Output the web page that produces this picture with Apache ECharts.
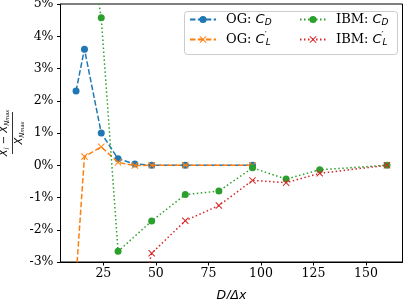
<!DOCTYPE html>
<html>
<head>
<meta charset="utf-8">
<script src="https://cdn.jsdelivr.net/npm/echarts@6/dist/echarts.min.js"></script>
<style>html,body{margin:0;padding:0;background:#fff}#c{width:407px;height:299px}</style>
</head>
<body>
<div id="c"></div>
<script>
// ---- data ----
const ogX = [12, 16, 24, 32, 40, 48, 64, 96];
const ogCD = [2.30, 3.60, 1.00, 0.20, 0.04, 0.00, 0.00, 0.00];
const ogCL = [-3.5, 0.27, 0.57, 0.09, -0.01, 0.00, 0.00, 0.00];
const ibmX = [16, 24, 32, 48, 64, 80, 96, 112, 128, 160];
const ibmCD = [7.7, 4.57, -2.67, -1.73, -0.91, -0.80, -0.08, -0.43, -0.14, 0.00];
const ibmXL = [32, 48, 64, 80, 96, 112, 128, 160];
const ibmCL = [-7.0, -2.73, -1.72, -1.25, -0.47, -0.54, -0.25, 0.00];
const xTicks = [25, 50, 75, 100, 125, 150];
const seriesNames = ['OG: C_D', 'OG: C_L\'', 'IBM: C_D', 'IBM: C_L\''];

const pair = (xs, ys) => xs.map((x, i) => [x, ys[i]]);
const SERIF = 'DejaVu Serif';
const SANS = 'DejaVu Sans';
const XSYM = 'path://M1,0L5,4L9,0L10,1L6,5L10,9L9,10L5,6L1,10L0,9L4,5L0,1Z';

const chart = echarts.init(document.getElementById('c'), null, {renderer: 'canvas'});

const legendRich = {
  n: {fontFamily: SERIF, fontSize: 13, color: '#000', lineHeight: 16, padding: [0,0,0,5]},
  i: {fontFamily: SANS, fontStyle: 'italic', fontSize: 13, color: '#000', lineHeight: 16},
  s: {fontFamily: SANS, fontStyle: 'italic', fontSize: 9, color: '#000', lineHeight: 7, verticalAlign: 'bottom'},
  p: {fontFamily: SANS, fontSize: 9, color: '#000', lineHeight: 14, verticalAlign: 'top', width: 1}
};
const legendFmt = {
  'OG: C_D': '{n|OG: }{i|C}{s|D}',
  'OG: C_L\'': '{n|OG: }{i|C}{p|′}{s|L}',
  'IBM: C_D': '{n|IBM: }{i|C}{s|D}',
  'IBM: C_L\'': '{n|IBM: }{i|C}{p|′}{s|L}'
};
const legendBase = {
  orient: 'vertical', itemWidth: 26, itemHeight: 9, itemGap: 4, z: 10,
  padding: 0,
  formatter: n => legendFmt[n],
  textStyle: {rich: legendRich}
};

const numRich = {
  x: {fontFamily: SANS, fontStyle: 'italic', fontSize: 10, color: '#000', lineHeight: 12},
  t: {fontFamily: SANS, fontSize: 10, color: '#000', lineHeight: 12},
  s: {fontFamily: SANS, fontStyle: 'italic', fontSize: 7, color: '#000', lineHeight: 6, verticalAlign: 'bottom'},
  ss: {fontFamily: SANS, fontStyle: 'italic', fontSize: 5, color: '#000', lineHeight: 2, verticalAlign: 'bottom'}
};

chart.setOption({
  animation: false,
  backgroundColor: '#fff',
  grid: {left: 60.5, right: 4.5, top: 4, bottom: 37, show: true, borderColor: '#000', borderWidth: 1,
         containLabel: false, outerBoundsMode: 'none'},
  xAxis: {
    type: 'value', min: 4.6, max: 167.4,
    name: 'D/Δx', nameLocation: 'middle', nameGap: 27,
    nameTextStyle: {fontFamily: SANS, fontStyle: 'italic', fontSize: 12.5, color: '#000'},
    axisLine: {show: true, onZero: false, lineStyle: {color: '#000', width: 1}},
    axisTick: {show: true, length: 3.5, lineStyle: {color: '#000'}, customValues: xTicks},
    axisLabel: {fontFamily: SERIF, fontSize: 12.5, color: '#000', margin: 5, customValues: xTicks},
    splitLine: {show: false}
  },
  yAxis: {
    type: 'value', min: -3, max: 5, interval: 1,
    axisLine: {show: true, onZero: false, lineStyle: {color: '#000', width: 1}},
    axisTick: {show: true, length: 3.5, lineStyle: {color: '#000'}},
    axisLabel: {fontFamily: SERIF, fontSize: 12.5, color: '#000', margin: 7, formatter: v => v + '%'},
    splitLine: {show: false}
  },
  legend: [
    Object.assign({}, legendBase, {left: 189, top: 13, data: [seriesNames[0], seriesNames[1]]}),
    Object.assign({}, legendBase, {left: 299, top: 13, data: [seriesNames[2], seriesNames[3]]})
  ],
  graphic: [
    {type: 'rect', z: 5, shape: {x: 184.5, y: 11.5, width: 213, height: 43, r: 3},
     style: {fill: 'rgba(255,255,255,0.8)', stroke: '#cccccc', lineWidth: 1}},
    {type: 'group', x: 12.5, y: 133, rotation: Math.PI / 2, children: [
      {type: 'text', x: 0, y: -2, style: {text: '{x|X}{s|i}{t| − }{x|X}{s|N}{ss|max}', rich: numRich, align: 'center', verticalAlign: 'bottom'}},
      {type: 'line', shape: {x1: -21, y1: 0, x2: 21, y2: 0}, style: {stroke: '#000', lineWidth: 0.8}},
      {type: 'text', x: 0, y: 1, style: {text: '{x|X}{s|N}{ss|max}', rich: numRich, align: 'center', verticalAlign: 'top'}}
    ]}
  ],
  series: [
    {name: seriesNames[0], type: 'line', data: pair(ogX, ogCD), color: '#1f77b4',
     symbol: 'circle', symbolSize: 7, lineStyle: {width: 1.5, type: [5.5, 2.4]}, z: 2},
    {name: seriesNames[1], type: 'line', data: pair(ogX, ogCL), color: '#ff7f0e',
     symbol: XSYM, symbolSize: 7, lineStyle: {width: 1.5, type: [5.5, 2.4]}, z: 3},
    {name: seriesNames[2], type: 'line', data: pair(ibmX, ibmCD), color: '#2ca02c',
     symbol: 'circle', symbolSize: 7, lineStyle: {width: 1.5, type: [1.5, 2.5]}, z: 4},
    {name: seriesNames[3], type: 'line', data: pair(ibmXL, ibmCL), color: '#d62728',
     symbol: XSYM, symbolSize: 7, lineStyle: {width: 1.5, type: [1.5, 2.5]}, z: 5}
  ]
});
</script>
</body>
</html>
